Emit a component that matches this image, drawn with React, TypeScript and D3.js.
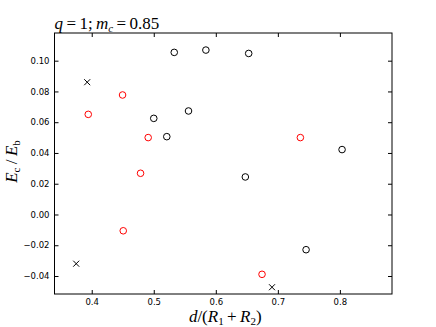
import React, { useEffect, useRef } from "react";
import * as d3 from "d3";

// black open circles
const blackX = [0.500, 0.521, 0.533, 0.584, 0.556, 0.653, 0.8035, 0.6476, 0.7455];
const blackY = [0.0625, 0.0506, 0.1054, 0.1069, 0.0673, 0.1047, 0.0422, 0.0244, -0.0229];

// red open circles
const redX = [0.3944, 0.4497, 0.491, 0.4787, 0.4508, 0.7363, 0.6745];
const redY = [0.0651, 0.0777, 0.050, 0.0268, -0.0106, 0.050, -0.0389];

// crosses
const crossX = [0.3927, 0.375, 0.6906];
const crossY = [0.086, -0.032, -0.0473];

const xTicks = [0.4, 0.5, 0.6, 0.7, 0.8];
const yTicks = [-0.04, -0.02, 0.0, 0.02, 0.04, 0.06, 0.08, 0.1];

const App = () => {
  const svgRef = useRef<SVGSVGElement>(null);

  useEffect(() => {
    const width = 436;
    const height = 327;
    const margin = { top: 33, right: 44, bottom: 33, left: 54.5 };
    const innerWidth = width - margin.left - margin.right;
    const innerHeight = height - margin.top - margin.bottom;

    const svg = d3.select(svgRef.current);
    svg.selectAll("*").remove();

    const g = svg.append("g")
      .attr("transform", `translate(${margin.left},${margin.top})`);

    const x = d3.scaleLinear().domain([0.34, 0.884]).range([0, innerWidth]);
    const y = d3.scaleLinear().domain([-0.0517, 0.118]).range([innerHeight, 0]);

    const tickFont = "DejaVu Sans";
    const fmt = (d: number) => d3.format(".2f")(d).replace("-", "\u2212");

    // ticks on all four sides, pointing in
    g.append("g")
      .attr("transform", `translate(0,${innerHeight})`)
      .call(d3.axisBottom(x).tickValues(xTicks).tickSizeInner(-4).tickSizeOuter(0).tickPadding(5).tickFormat(d3.format(".1f") as any))
      .call(a => a.select(".domain").remove())
      .selectAll("text")
      .style("font-family", tickFont)
      .style("font-size", "8.5px")
      .attr("fill", "#000");

    g.append("g")
      .call(d3.axisTop(x).tickValues(xTicks).tickSizeInner(-4).tickSizeOuter(0).tickFormat(() => ""))
      .call(a => a.select(".domain").remove());

    g.append("g")
      .call(d3.axisLeft(y).tickValues(yTicks).tickSizeInner(-4).tickSizeOuter(0).tickPadding(5).tickFormat(fmt as any))
      .call(a => a.select(".domain").remove())
      .selectAll("text")
      .style("font-family", tickFont)
      .style("font-size", "8.5px")
      .attr("fill", "#000");

    g.append("g")
      .attr("transform", `translate(${innerWidth},0)`)
      .call(d3.axisRight(y).tickValues(yTicks).tickSizeInner(-4).tickSizeOuter(0).tickFormat(() => ""))
      .call(a => a.select(".domain").remove());

    g.append("rect")
      .attr("width", innerWidth)
      .attr("height", innerHeight)
      .attr("fill", "none")
      .attr("stroke", "#000")
      .attr("stroke-width", 1);

    g.selectAll(".blk")
      .data(blackX.map((v, i) => [v, blackY[i]]))
      .enter()
      .append("circle")
      .attr("cx", d => x(d[0]))
      .attr("cy", d => y(d[1]))
      .attr("r", 3.3)
      .attr("fill", "none")
      .attr("stroke", "#000")
      .attr("stroke-width", 1);

    g.selectAll(".red")
      .data(redX.map((v, i) => [v, redY[i]]))
      .enter()
      .append("circle")
      .attr("cx", d => x(d[0]))
      .attr("cy", d => y(d[1]))
      .attr("r", 3.3)
      .attr("fill", "none")
      .attr("stroke", "#ff0000")
      .attr("stroke-width", 1);

    const s = 3;
    g.selectAll(".crs")
      .data(crossX.map((v, i) => [v, crossY[i]]))
      .enter()
      .append("path")
      .attr("d", d => {
        const cx = x(d[0]), cy = y(d[1]);
        return `M${cx - s},${cy - s}L${cx + s},${cy + s}M${cx - s},${cy + s}L${cx + s},${cy - s}`;
      })
      .attr("stroke", "#000")
      .attr("stroke-width", 1);

    const mathFont = "Liberation Serif";
    const big = "17px";
    const sub = "11px";

    const title = svg.append("text")
      .attr("x", margin.left)
      .attr("y", 29)
      .style("font-family", mathFont)
      .style("font-size", big);
    title.append("tspan").style("font-style", "italic").text("q");
    title.append("tspan").text("\u2009=\u20091;\u2009");
    title.append("tspan").style("font-style", "italic").text("m");
    title.append("tspan").attr("dy", 3).style("font-size", sub).style("font-style", "italic").text("c");
    title.append("tspan").attr("dy", -3).text("\u2009=\u20090.85");

    const xl = svg.append("text")
      .attr("x", margin.left + innerWidth / 2 + 2)
      .attr("y", 322)
      .attr("text-anchor", "middle")
      .style("font-family", mathFont)
      .style("font-size", big);
    xl.append("tspan").style("font-style", "italic").text("d");
    xl.append("tspan").text("/(");
    xl.append("tspan").style("font-style", "italic").text("R");
    xl.append("tspan").attr("dy", 3).style("font-size", sub).text("1");
    xl.append("tspan").attr("dy", -3).text("\u2009+\u2009");
    xl.append("tspan").style("font-style", "italic").text("R");
    xl.append("tspan").attr("dy", 3).style("font-size", sub).text("2");
    xl.append("tspan").attr("dy", -3).text(")");

    const yl = svg.append("text")
      .attr("transform", `translate(17,${margin.top + innerHeight / 2 - 2}) rotate(-90)`)
      .attr("text-anchor", "middle")
      .style("font-family", mathFont)
      .style("font-size", big);
    yl.append("tspan").style("font-style", "italic").text("E");
    yl.append("tspan").attr("dy", 3).style("font-size", sub).text("c");
    yl.append("tspan").attr("dy", -3).text("\u2009/\u2009");
    yl.append("tspan").style("font-style", "italic").text("E");
    yl.append("tspan").attr("dy", 3).style("font-size", sub).text("b");
  }, []);

  return (
    <svg
      ref={svgRef}
      width={436}
      height={327}
      style={{ position: "absolute", left: 0, top: 0, background: "#fff" }}
    ></svg>
  );
};

export default App;
